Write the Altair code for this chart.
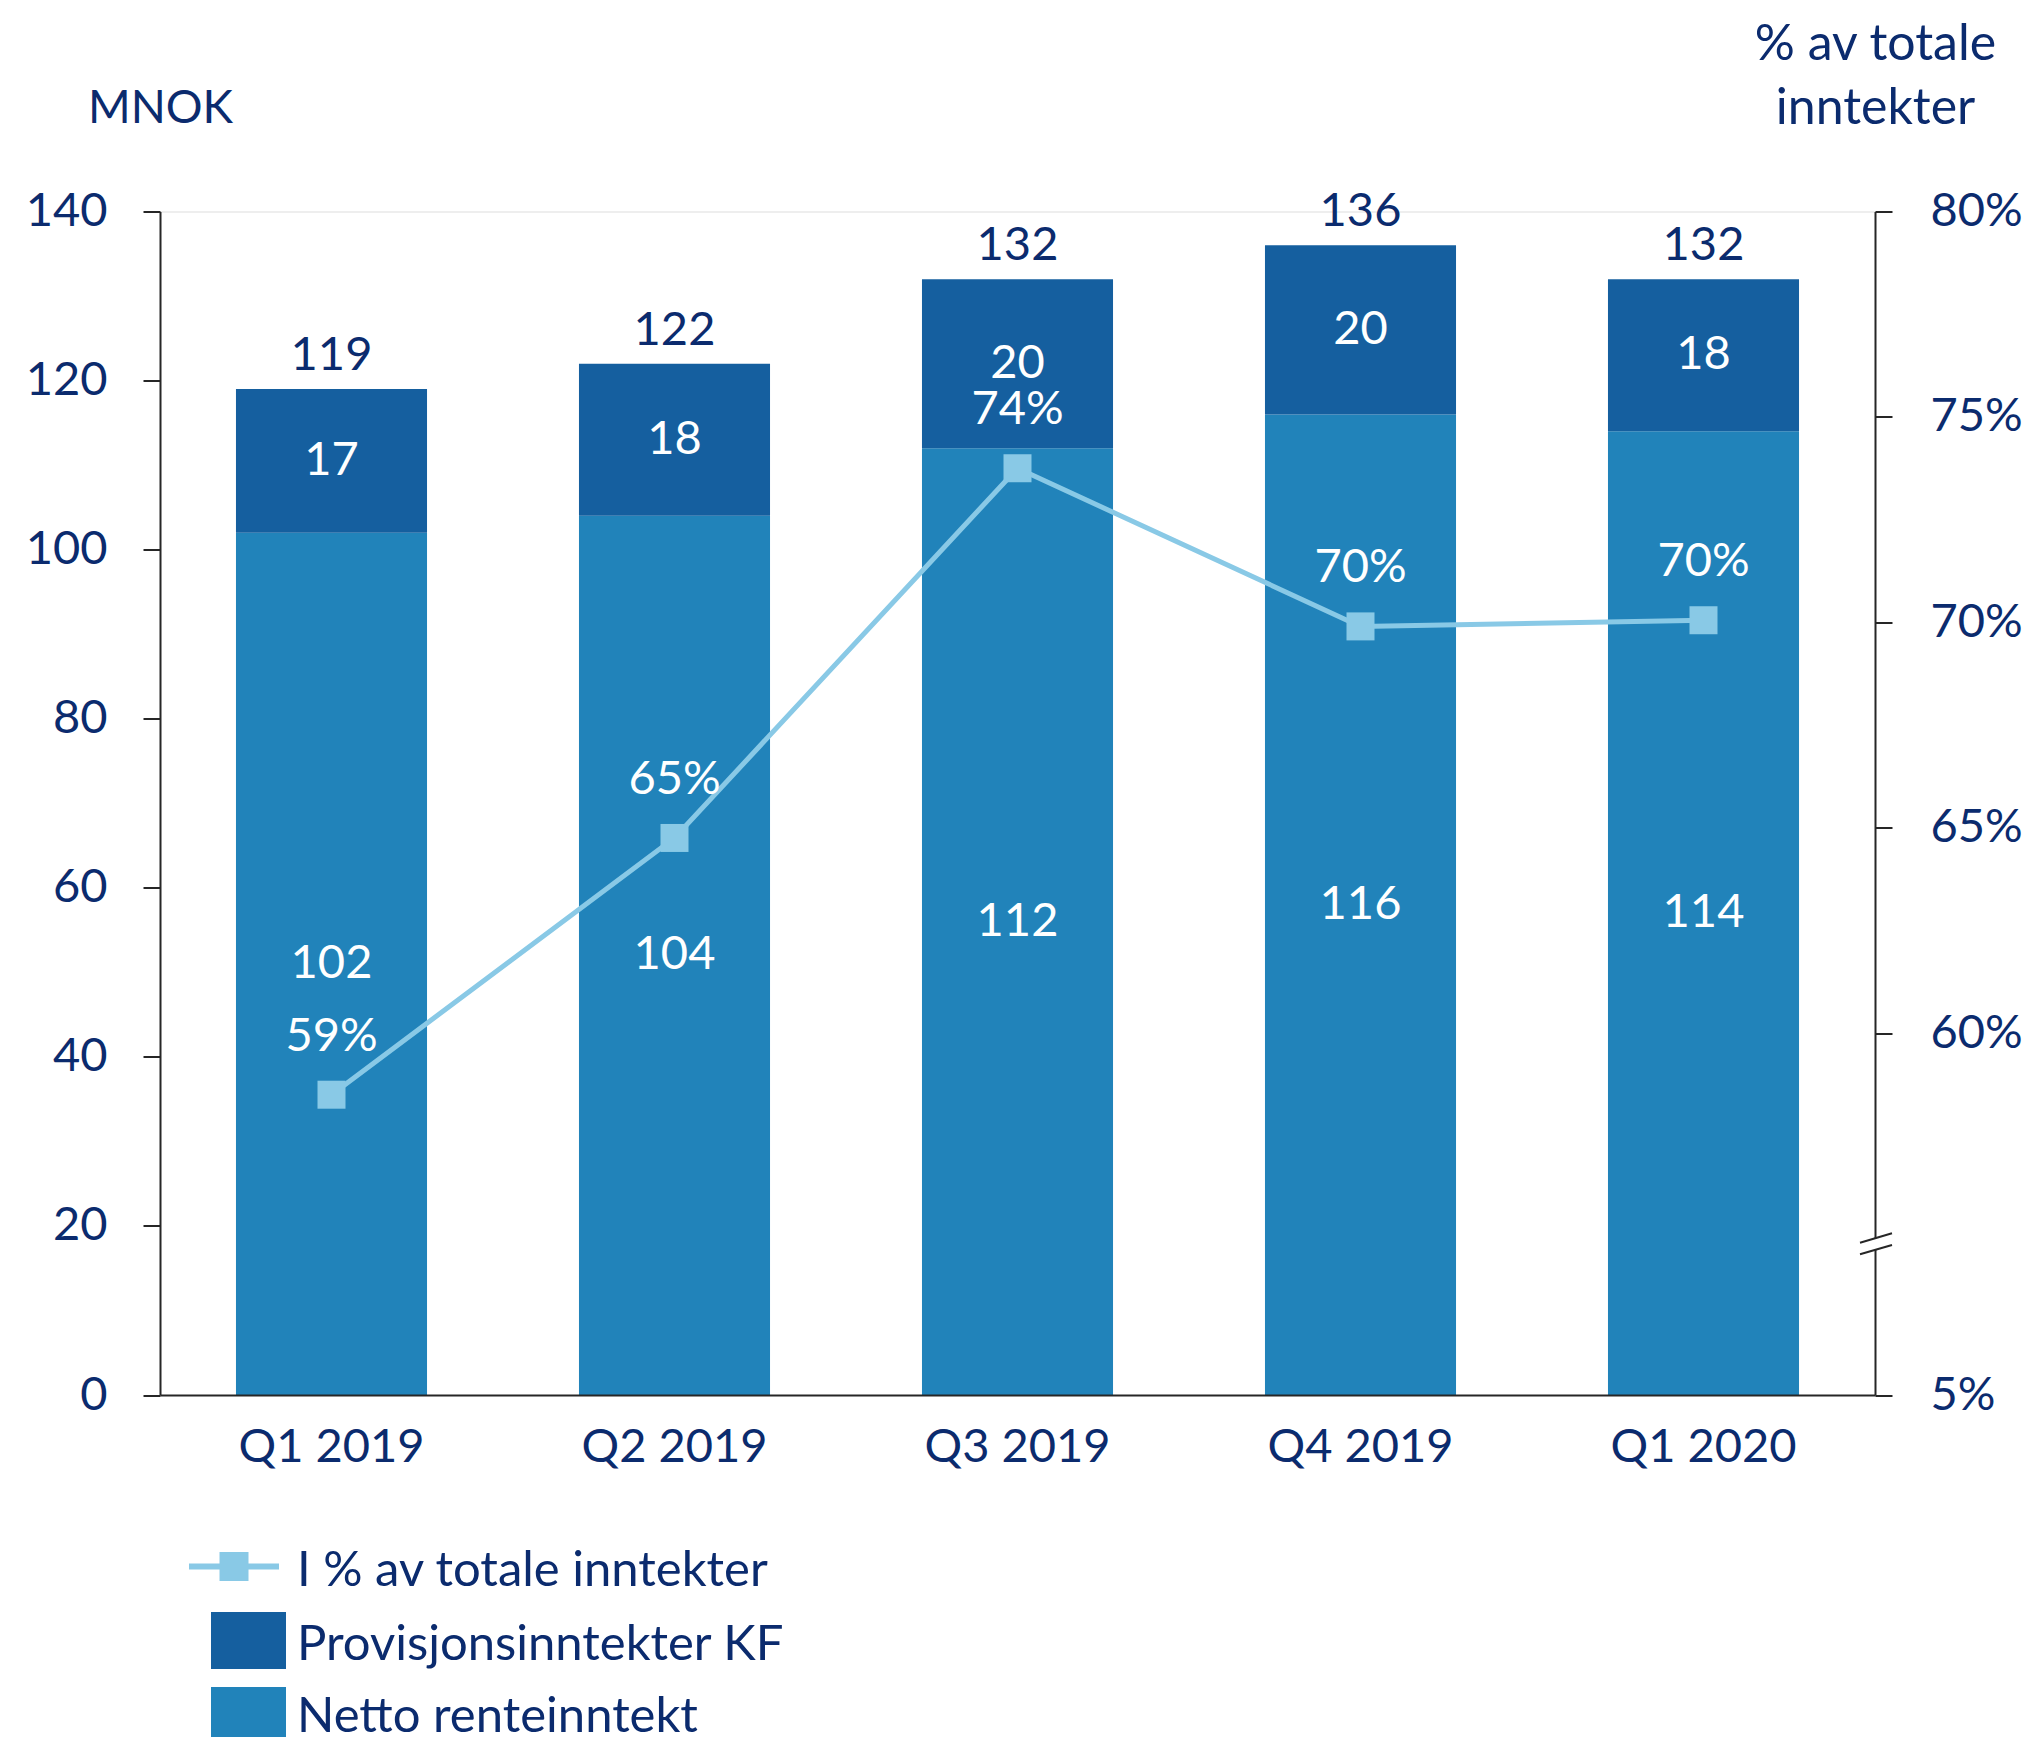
import altair as alt
import pandas as pd

# ---- data ----
quarters = ["Q1 2019", "Q2 2019", "Q3 2019", "Q4 2019", "Q1 2020"]
netto = [102, 104, 112, 116, 114]
provisjon = [17, 18, 20, 20, 18]
totals = [119, 122, 132, 136, 132]
pct = [58.5, 64.75, 73.75, 69.9, 70.05]
pct_labels = ["59%", "65%", "74%", "70%", "70%"]

name_netto = "Netto renteinntekt"
name_prov = "Provisjonsinntekter KF"
name_line = "I % av totale inntekter"

left_ticks = [0, 20, 40, 60, 80, 100, 120, 140]
right_bottom = 51.19          # value sitting at the axis floor (shown as "5%" after the break)
right_ticks = [right_bottom, 60, 65, 70, 75, 80]

# ---- styling ----
FONT = "Lato"
FS = 47       # numbers / category labels
FST = 50      # right title
FSL = 49      # legend text
NAVY = "#0b2b6e"
DARK = "#155f9f"
LIGHT = "#2183ba"
LINEC = "#89c9e6"
AXISC = "#262626"

W, H = 1715, 1183.5

bars_df = pd.DataFrame({
    "quarter": quarters * 2,
    "series": [name_netto] * len(quarters) + [name_prov] * len(quarters),
    "value": netto + provisjon,
    "ord": [0] * len(quarters) + [1] * len(quarters),
})
tot_df = pd.DataFrame({"quarter": quarters, "total": totals})
pct_df = pd.DataFrame({"quarter": quarters, "pct": pct, "label": pct_labels})

xscale = alt.Scale(domain=quarters, paddingInner=0.443, paddingOuter=0.2215)
xaxis = alt.Axis(title=None, labelFont=FONT, labelFontSize=FS, labelColor=NAVY,
                 ticks=False, tickSize=0, labelPadding=29, labelLimit=0, domainColor=AXISC,
                 domainWidth=2, labelAngle=0, zindex=1)
X = alt.X("quarter:N", scale=xscale, axis=xaxis, sort=quarters)

yleft_scale = alt.Scale(domain=[0, 140], nice=False)
yleft_axis = alt.Axis(values=left_ticks, title="MNOK", titleAngle=0, titleX=0, titleY=-89.5,
                      titleAlign="center", titleBaseline="alphabetic", titleFont=FONT,
                      titleFontSize=46, titleFontWeight="normal", titleColor=NAVY,
                      labelFont=FONT, labelFontSize=FS, labelColor=NAVY, labelPadding=36,
                      tickSize=17, tickWidth=2, tickColor=AXISC, domainColor=AXISC,
                      domainWidth=2, grid=False, zindex=1)

bars = alt.Chart(bars_df).mark_bar().encode(
    x=X,
    y=alt.Y("sum(value):Q", scale=yleft_scale, axis=yleft_axis, stack="zero"),
    color=alt.Color("series:N", scale=alt.Scale(domain=[name_netto, name_prov], range=[LIGHT, DARK]),
                    legend=None),
    order=alt.Order("ord:Q"),
)

seg_labels = alt.Chart(bars_df).transform_stack(
    stack="value", groupby=["quarter"], as_=["v0", "v1"], sort=[alt.SortField("ord")]
).transform_calculate(mid="(datum.v0 + datum.v1) / 2").mark_text(
    font=FONT, fontSize=FS, color="white", baseline="middle"
).encode(
    x=X,
    y=alt.Y("mid:Q", scale=yleft_scale, axis=yleft_axis),
    text=alt.Text("value:Q"),
)

tot_labels = alt.Chart(tot_df).mark_text(
    font=FONT, fontSize=FS, color=NAVY, baseline="alphabetic", dy=-19
).encode(
    x=X,
    y=alt.Y("total:Q", scale=yleft_scale, axis=yleft_axis),
    text=alt.Text("total:Q"),
)

left = alt.layer(bars, seg_labels, tot_labels)

yright_scale = alt.Scale(domain=[right_bottom, 80], nice=False, zero=False)
yright_axis = alt.Axis(orient="right", values=right_ticks,
                       labelExpr="datum.value < 55 ? '5%' : format(datum.value, '.0f') + '%'",
                       title=["% av totale", "inntekter"], titleAngle=0, titleX=0, titleY=-152,
                       titleAlign="center", titleBaseline="alphabetic", titleLineHeight=63.5,
                       titleFont=FONT, titleFontSize=FST, titleFontWeight="normal", titleColor=NAVY,
                       labelFont=FONT, labelFontSize=FS, labelColor=NAVY, labelPadding=38,
                       labelAlign="left", tickSize=17, tickWidth=2, tickColor=AXISC,
                       domainColor=AXISC, domainWidth=2, grid=False, zindex=0)

Yr = alt.Y("pct:Q", scale=yright_scale, axis=yright_axis)
line = alt.Chart(pct_df).mark_line(color=LINEC, strokeWidth=5).encode(x=X, y=Yr)
pts = alt.Chart(pct_df).mark_square(color=LINEC, size=784, opacity=1, filled=True).encode(x=X, y=Yr)
pct_text = alt.Chart(pct_df).mark_text(
    font=FONT, fontSize=FS, color="white", baseline="middle", dy=-58
).encode(x=X, y=Yr, text="label:N")

right = alt.layer(line, pts, pct_text)

one = pd.DataFrame({"a": [0]})

# axis break on the right axis
gap = alt.Chart(one).mark_rule(color="white", strokeWidth=5).encode(
    x=alt.value(W), y=alt.value(1027), y2=alt.value(1038.5))
brk1 = alt.Chart(one).mark_rule(color=AXISC, strokeWidth=2).encode(
    x=alt.value(W - 15), x2=alt.value(W + 17), y=alt.value(1031.2), y2=alt.value(1021.8))
brk2 = alt.Chart(one).mark_rule(color=AXISC, strokeWidth=2).encode(
    x=alt.value(W - 15), x2=alt.value(W + 17), y=alt.value(1042.8), y2=alt.value(1033.5))

# legend
leg_line = alt.Chart(one).mark_rule(color=LINEC, strokeWidth=6).encode(
    x=alt.value(29), x2=alt.value(119), y=alt.value(1355))
leg_sq = alt.Chart(one).mark_square(color=LINEC, size=841, opacity=1, filled=True).encode(
    x=alt.value(74), y=alt.value(1355))
leg_r1 = alt.Chart(one).mark_rect(color=DARK).encode(
    x=alt.value(51), x2=alt.value(126), y=alt.value(1400.5), y2=alt.value(1457.5))
leg_r2 = alt.Chart(one).mark_rect(color=LIGHT).encode(
    x=alt.value(51), x2=alt.value(126), y=alt.value(1475.5), y2=alt.value(1531.5))


def leg_text(txt, y):
    return alt.Chart(one).mark_text(font=FONT, fontSize=FSL, color=NAVY, align="left",
                                    baseline="alphabetic").encode(
        x=alt.value(137), y=alt.value(y), text=alt.value(txt))


chart = alt.layer(
    left, right, gap, brk1, brk2, leg_line, leg_sq, leg_r1, leg_r2,
    leg_text(name_line, 1374.5), leg_text(name_prov, 1448.5), leg_text(name_netto, 1520),
).resolve_scale(y="independent").properties(
    width=W, height=H,
    autosize=alt.AutoSizeParams(type="none"),
    padding={"left": 152, "top": 203.5, "right": 150, "bottom": 342},
).configure_view(stroke=None).configure(background="white")

chart.save("out.html", embed_options={"renderer": "svg", "actions": False})
